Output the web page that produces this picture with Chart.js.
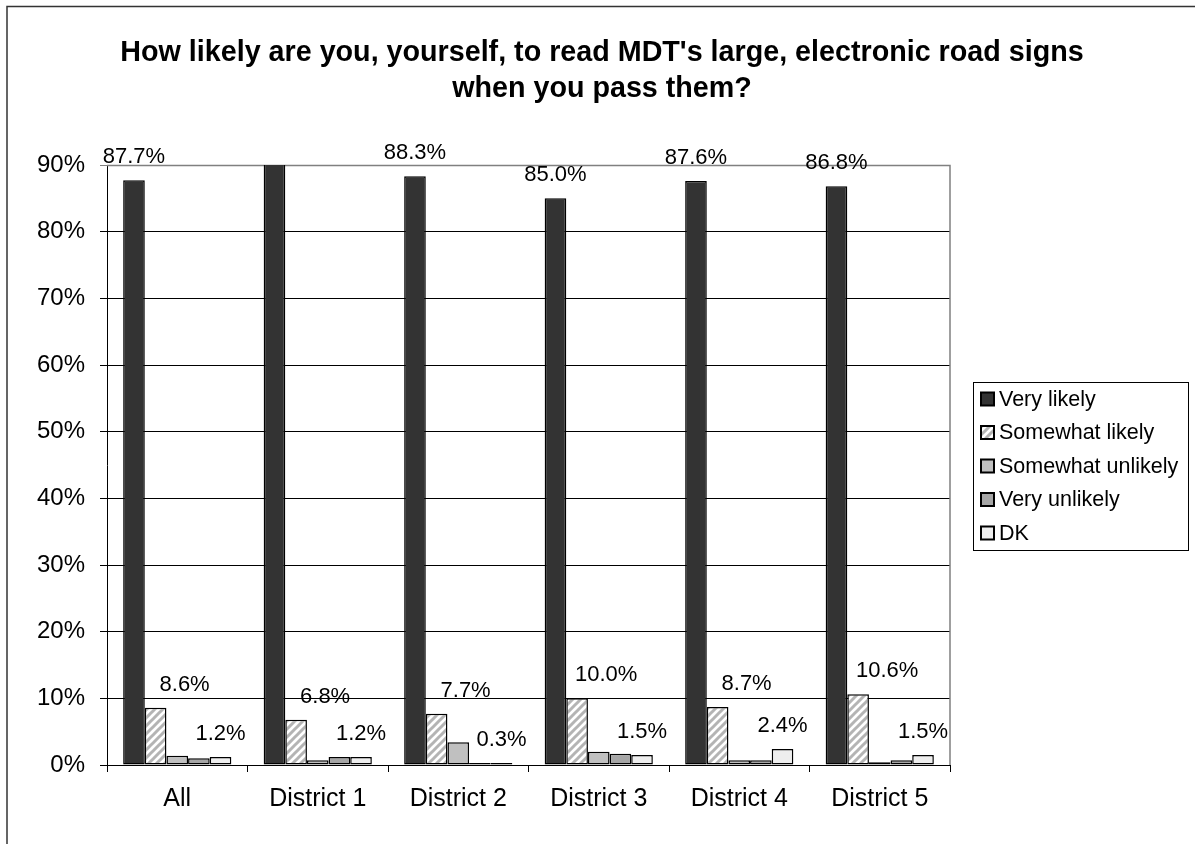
<!DOCTYPE html>
<html><head><meta charset="utf-8">
<script src="https://cdn.jsdelivr.net/npm/chart.js@4/dist/chart.umd.min.js"></script>
<style>html,body{margin:0;padding:0;background:#fff}#wrap{width:1195px;height:844px;position:relative}</style>
</head><body><div id="wrap"><canvas id="c" width="1195" height="844"></canvas></div>
<script>
const categories = ['All', 'District 1', 'District 2', 'District 3', 'District 4', 'District 5'];
const seriesNames = ['Very likely', 'Somewhat likely', 'Somewhat unlikely', 'Very unlikely', 'DK'];
const veryLikely = [87.7, 90.5, 88.3, 85.0, 87.6, 86.8];
const somewhatLikely = [8.6, 6.8, 7.7, 10.0, 8.7, 10.6];
const somewhatUnlikely = [1.4, 0.7, 3.4, 2.0, 0.7, 0.4];
const veryUnlikely = [1.0, 1.2, 0.3, 1.7, 0.7, 0.7];
const dontKnow = [1.2, 1.2, 0.3, 1.5, 2.4, 1.5];
const yTickValues = [0, 10, 20, 30, 40, 50, 60, 70, 80, 90];
const titleLines = ["How likely are you, yourself, to read MDT's large, electronic road signs", "when you pass them?"];
const labelledSeries = [0, 1, 4];

const FONT = '"Liberation Sans", Arial, Helvetica, sans-serif';

function stripePattern() {
  const t = document.createElement('canvas');
  t.width = 8; t.height = 8;
  const g = t.getContext('2d');
  g.fillStyle = '#ffffff'; g.fillRect(0, 0, 8, 8);
  g.strokeStyle = '#b4b4b4'; g.lineWidth = 3;
  g.beginPath();
  g.moveTo(-2, 10); g.lineTo(10, -2);
  g.moveTo(-2, 2); g.lineTo(2, -2);
  g.moveTo(6, 10); g.lineTo(10, 6);
  g.stroke();
  return g.createPattern(t, 'repeat');
}

const ctx = document.getElementById('c').getContext('2d');
const fills = ['#333333', stripePattern(), '#c0c0c0', '#a6a6a6', '#eeeeee'];
const seriesData = [veryLikely, somewhatLikely, somewhatUnlikely, veryUnlikely, dontKnow];

const decor = {
  id: 'decor',
  beforeDatasetsDraw(chart) {
    const a = chart.chartArea, c = chart.ctx;
    c.save();
    c.strokeStyle = '#808080'; c.lineWidth = 1.5;
    c.beginPath();
    c.moveTo(a.left, a.top + 0.5); c.lineTo(a.right, a.top + 0.5); c.lineTo(a.right, a.bottom);
    c.stroke();
    c.restore();
  },
  afterDatasetsDraw(chart) {
    const c = chart.ctx;
    c.save();
    c.font = '22px ' + FONT;
    c.fillStyle = '#000';
    c.textAlign = 'center'; c.textBaseline = 'middle';
    labelledSeries.forEach(di => {
      const meta = chart.getDatasetMeta(di);
      meta.data.forEach((bar, i) => {
        const v = chart.data.datasets[di].data[i];
        if (v > chart.scales.y.max) return;
        const dx = di === 1 ? 29 : 0;
        c.fillText(v.toFixed(1) + '%', bar.x + dx, bar.y - 23);
      });
    });
    c.restore();
  },
  afterDraw(chart) {
    const c = chart.ctx;
    c.save();
    // outer frame
    c.strokeStyle = '#333'; c.lineWidth = 1.5;
    c.beginPath(); c.moveTo(7, 844); c.lineTo(7, 6.5); c.lineTo(1195, 6.5); c.stroke();
    // title
    c.fillStyle = '#000'; c.font = 'bold 28.7px ' + FONT;
    c.textAlign = 'center'; c.textBaseline = 'middle';
    c.fillText(titleLines[0], 602, 53);
    c.fillText(titleLines[1], 602, 89);
    // legend
    c.lineWidth = 1; c.strokeStyle = '#000';
    c.strokeRect(973.5, 382.5, 215, 168);
    c.font = '21.5px ' + FONT; c.textAlign = 'left';
    chart.data.datasets.forEach((ds, i) => {
      const y = 399 + i * 33.5;
      c.fillStyle = ds.backgroundColor;
      c.fillRect(981, y - 6.5, 13, 13);
      c.lineWidth = 2; c.strokeStyle = '#000';
      c.strokeRect(981, y - 6.5, 13, 13);
      c.fillStyle = '#000';
      c.fillText(ds.label, 999, y + 1);
    });
    c.restore();
  }
};

new Chart(ctx, {
  type: 'bar',
  data: {
    labels: categories,
    datasets: seriesNames.map((n, i) => ({
      label: n,
      data: seriesData[i],
      backgroundColor: fills[i],
      borderColor: '#000',
      borderWidth: 1.5,
      borderSkipped: false,
      categoryPercentage: 0.77,
      barPercentage: 1.0
    }))
  },
  options: {
    responsive: false,
    animation: false,
    devicePixelRatio: 1,
    layout: { padding: { left: 0, top: 165, right: 245, bottom: 0 } },
    plugins: { legend: { display: false }, title: { display: false }, tooltip: { enabled: false } },
    scales: {
      x: {
        grid: { offset: true, drawOnChartArea: false, drawTicks: true, tickLength: 7, color: '#000' },
        border: { display: true, color: '#000', width: 1 },
        ticks: { color: '#000', font: { family: FONT, size: 25 }, padding: 12, maxRotation: 0 },
        afterFit(s) { s.height = 79; }
      },
      y: {
        min: 0, max: 90,
        afterBuildTicks(s) { s.ticks = yTickValues.map(v => ({ value: v })); },
        grid: {
          color: c => (c.tick && c.tick.value === 90) ? '#808080' : '#000',
          lineWidth: 1, tickLength: 7, drawTicks: true
        },
        border: { display: true, color: '#000', width: 1 },
        ticks: { color: '#000', font: { family: FONT, size: 24 }, padding: 15, callback: v => v + '%' },
        afterFit(s) { s.width = 107; }
      }
    }
  },
  plugins: [decor]
});
</script></body></html>
